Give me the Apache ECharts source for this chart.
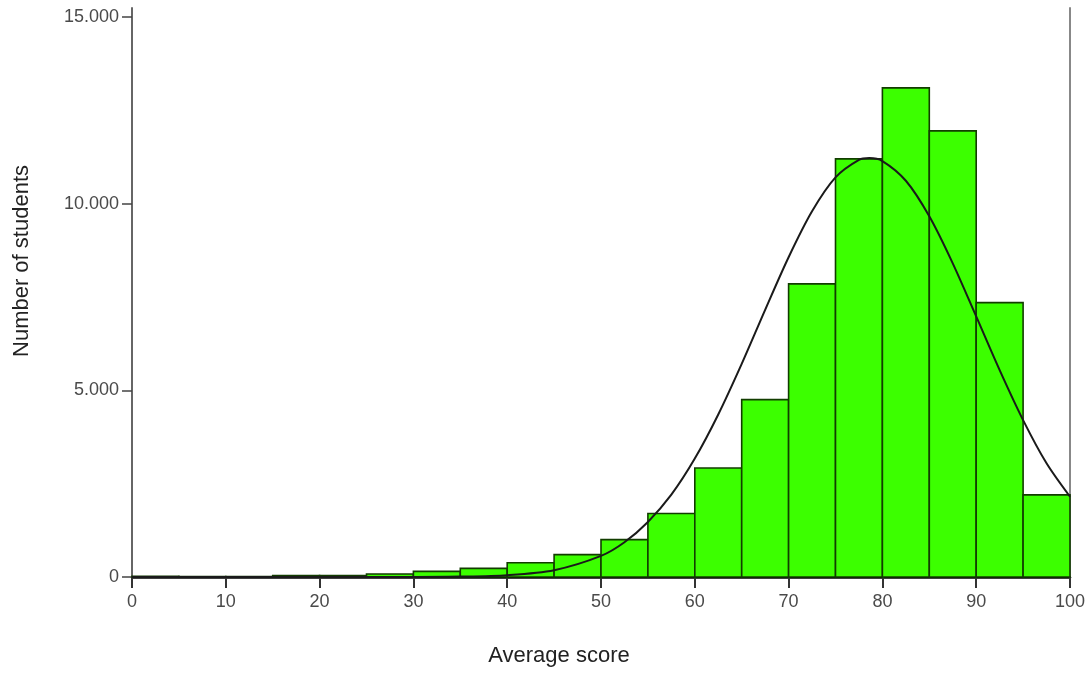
<!DOCTYPE html>
<html>
<head>
<meta charset="utf-8">
<script src="https://cdn.jsdelivr.net/npm/echarts@6/dist/echarts.min.js"></script>
<style>
html,body{margin:0;padding:0;background:#fff;}
#chart{width:1091px;height:676px;}
</style>
</head>
<body>
<div id="chart"></div>
<script>
// Histogram bins (lower edge, upper edge) and counts
var binStarts = [0, 5, 10, 15, 20, 25, 30, 35, 40, 45, 50, 55, 60, 65, 70, 75, 80, 85, 90, 95];
var binEnds   = [5, 10, 15, 20, 25, 30, 35, 40, 45, 50, 55, 60, 65, 70, 75, 80, 85, 90, 95, 100];
var counts    = [20, 10, 10, 40, 40, 80, 150, 230, 380, 600, 1000, 1700, 2920, 4750, 7850, 11200, 13100, 11950, 7350, 2200];

// Normal curve
var curveX = [0, 20, 30, 35, 40, 45, 50, 52.5, 55, 57.5, 60, 62.5, 65, 67.5, 70, 72.5, 75, 77.5, 78.6, 80, 82.5, 85, 87.5, 90, 92.5, 95, 97.5, 100];
var curveY = [0, 0, 2, 11, 49, 182, 565, 930, 1475, 2205, 3171, 4353, 5708, 7155, 8564, 9794, 10702, 11171, 11220, 11140, 10613, 9662, 8402, 6979, 5541, 4202, 3044, 2150];

var xTicks = [0, 10, 20, 30, 40, 50, 60, 70, 80, 90, 100];
var yTicks = [0, 5000, 10000, 15000];

var histData = binStarts.map(function (s, i) { return [s, binEnds[i], counts[i]]; });
var curveData = curveX.map(function (x, i) { return [x, curveY[i]]; });

var chart = echarts.init(document.getElementById('chart'));
var labelFont = { fontFamily: 'Liberation Sans, Arial, sans-serif', fontSize: 18, color: '#4a4a4a' };

chart.setOption({
  animation: false,
  backgroundColor: '#fff',
  grid: { left: 132, right: 21, top: 8, bottom: 99, containLabel: false },
  xAxis: {
    type: 'value', min: 0, max: 100, interval: 10,
    axisLine: { show: true, lineStyle: { color: '#000', width: 2.5 } },
    axisTick: { show: true, length: 11, lineStyle: { color: '#333', width: 2 }, customValues: xTicks },
    axisLabel: Object.assign({ margin: 16, customValues: xTicks }, labelFont),
    splitLine: { show: false }
  },
  yAxis: [{
    type: 'value', min: 0, max: 15240,
    axisLine: { show: true, lineStyle: { color: '#666', width: 2 } },
    axisTick: { show: true, length: 10, lineStyle: { color: '#444', width: 1.5 }, customValues: yTicks },
    axisLabel: Object.assign({
      margin: 13, customValues: yTicks,
      formatter: function (v) { return v === 0 ? '0' : String(v).replace(/\B(?=(\d{3})+(?!\d))/g, '.'); }
    }, labelFont),
    splitLine: { show: false }
  }, {
    type: 'value', min: 0, max: 15240, position: 'right',
    axisLine: { show: true, lineStyle: { color: '#888', width: 2 } },
    axisTick: { show: false }, axisLabel: { show: false }, splitLine: { show: false }
  }],
  series: [{
    type: 'custom',
    data: histData,
    renderItem: function (params, api) {
      var p0 = api.coord([api.value(0), api.value(2)]);
      var p1 = api.coord([api.value(1), 0]);
      return {
        type: 'rect',
        shape: { x: p0[0], y: p0[1], width: p1[0] - p0[0], height: p1[1] - p0[1] },
        style: { fill: '#3cff00', stroke: '#123d00', lineWidth: 1.6 }
      };
    },
    encode: { x: [0, 1], y: 2 },
    z: 2
  }, {
    type: 'line',
    data: curveData,
    smooth: 0.3,
    showSymbol: false,
    lineStyle: { color: '#1a1a1a', width: 2 },
    z: 3
  }],
  graphic: [{
    type: 'text', x: 559, y: 656,
    style: { text: 'Average score', font: '22px "Liberation Sans", Arial, sans-serif', fill: '#222',
             textAlign: 'center', textVerticalAlign: 'middle' }
  }, {
    type: 'text', x: 22, y: 261, rotation: Math.PI / 2,
    style: { text: 'Number of students', font: '22px "Liberation Sans", Arial, sans-serif', fill: '#222',
             textAlign: 'center', textVerticalAlign: 'middle' }
  }]
});
</script>
</body>
</html>
